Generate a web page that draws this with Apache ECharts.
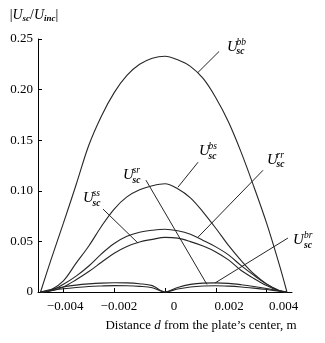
<!DOCTYPE html>
<html><head><meta charset="utf-8">
<script src="https://cdn.jsdelivr.net/npm/echarts@6/dist/echarts.min.js"></script>
<style>html,body{margin:0;padding:0;background:#fff}#c{width:325px;height:343px}</style>
</head><body><div id="c"></div>
<script>
// ---- data ----
const xs = [-0.0049, -0.0045, -0.004, -0.0035, -0.003, -0.0025, -0.002, -0.0015, -0.001, -0.0005, 0,
            0.0005, 0.001, 0.0015, 0.002, 0.0025, 0.003, 0.0035, 0.004, 0.0045, 0.0048];
const uBB = [0, 0.031, 0.068, 0.106, 0.145, 0.174, 0.197, 0.214, 0.225, 0.231, 0.233,
             0.2295, 0.223, 0.211, 0.192, 0.168, 0.138, 0.104, 0.068, 0.027, 0];
const uBS = [0, 0.002, 0.011, 0.0285, 0.0455, 0.065, 0.082, 0.094, 0.101, 0.105, 0.107,
             0.102, 0.093, 0.079, 0.063, 0.046, 0.031, 0.0178, 0.008, 0.0012, 0];
const uRR = [0, 0.0015, 0.0077, 0.0157, 0.0257, 0.0377, 0.0479, 0.055, 0.059, 0.061, 0.062,
             0.0605, 0.057, 0.051, 0.0446, 0.0367, 0.026, 0.0164, 0.0078, 0.0015, 0];
const uSS = [0, 0.001, 0.005, 0.0121, 0.0202, 0.0294, 0.0383, 0.045, 0.0495, 0.052, 0.054,
             0.0532, 0.0498, 0.0454, 0.0396, 0.0317, 0.0212, 0.0134, 0.0064, 0.001, 0];
const uSR = [0, 0.0025, 0.005, 0.0068, 0.008, 0.0088, 0.0091, 0.009, 0.0082, 0.0063, 0,
             0.0045, 0.0075, 0.0088, 0.009, 0.0085, 0.0072, 0.0055, 0.0035, 0.0012, 0];
const uBR = [0, 0.0015, 0.0032, 0.0045, 0.0055, 0.006, 0.0063, 0.0062, 0.0056, 0.0042, 0,
             0.003, 0.005, 0.006, 0.0062, 0.0058, 0.005, 0.0038, 0.0024, 0.0008, 0];

const seriesSup = ['bb', 'bs', 'rr', 'ss', 'sr', 'br'];
const seriesSub = 'sc';
// callout lines: [x on curve, y on curve, x at label, y at label]
const callBB = [0.00130, 0.217, 0.00213, 0.2377];
const callBS = [0.00051, 0.1036, 0.00130, 0.1282];
const callRR = [0.00130, 0.0542, 0.00386, 0.1203];
const callSS = [-0.00106, 0.0483, -0.00244, 0.0819];
const callSR = [0.00165, 0.0075, -0.00075, 0.1105];
const callBR = [0.00197, 0.0089, 0.00484, 0.0533];

const xTicks = [-0.004, -0.002, 0, 0.002, 0.004];
const xTickLabels = ['\u22120.004', '\u22120.002', '0', '0.002', '0.004'];
const yTicks = [0, 0.05, 0.1, 0.15, 0.2, 0.25];
const yTickLabels = ['0', '0.05', '0.10', '0.15', '0.20', '0.25'];
const xTitle = 'Distance {i|d} from the plate\u2019s center, m';

// ---- styles ----
const FONT = "'Liberation Serif','Times New Roman',serif";
const INK = '#000';
const LINE = '#262626';
const xLabelShift = [1.7, 4.7, 9, 13.3, 17];
// label offsets [dx, dy] of the "U" relative to the label end of the callout, gap to super/sub
const labelOff = { bb: [8, -4.5, 9.5], bs: [1, -11, 9.5], rr: [4, -10.5, 9.5],
                   ss: [-20, -11, 9.5], sr: [-23, -5, 9.5], br: [5, 2, 11] };

function pairs(arr) { return xs.map((x, i) => [x, arr[i]]); }

function makeSeries(name, arr, call) {
  const off = labelOff[name];
  const end = [call[2], call[3]];
  const base = { coord: end };
  return {
    type: 'line', name: name, data: pairs(arr), smooth: 0.35, showSymbol: false, clip: false,
    lineStyle: { color: LINE, width: 1.1 }, silent: true, animation: false, z: 2,
    markLine: {
      silent: true, animation: false, symbol: ['none', 'none'],
      lineStyle: { color: LINE, width: 1, type: 'solid' }, label: { show: false },
      emphasis: { disabled: true },
      data: [[{ coord: [call[0], call[1]] }, { coord: end }]]
    },
    markPoint: {
      silent: true, animation: false, symbol: 'circle', symbolSize: 0,
      itemStyle: { color: 'rgba(0,0,0,0)' },
      label: { show: true, color: INK, fontFamily: FONT, fontStyle: 'italic', align: 'left', verticalAlign: 'middle' },
      data: [
        Object.assign({}, base, { label: { formatter: 'U', fontSize: 15, position: [off[0], off[1]] } }),
        Object.assign({}, base, { label: { formatter: name, fontSize: 9.5, position: [off[0] + off[2], off[1] - 4.5] } }),
        Object.assign({}, base, { label: { formatter: seriesSub, fontSize: 9.5, fontWeight: 'bold', position: [off[0] + off[2], off[1] + 5] } })
      ]
    }
  };
}

const xRich = {};
xLabelShift.forEach((s, i) => {
  xRich['s' + i] = { fontFamily: FONT, fontSize: 13, color: INK, padding: [0, 0, 0, 2 * s] };
});

const chart = echarts.init(document.getElementById('c'), null, { renderer: 'canvas' });
chart.setOption({
  backgroundColor: '#fff',
  animation: false,
  grid: { left: 38, top: 39, width: 254, height: 253 },
  xAxis: {
    type: 'value', min: -0.005, max: 0.005,
    axisLine: { show: true, onZero: false, lineStyle: { color: INK, width: 1 } },
    axisTick: { show: true, inside: true, length: 4, customValues: xTicks, lineStyle: { color: INK } },
    splitLine: { show: false },
    axisLabel: {
      customValues: xTicks, margin: 8, fontFamily: FONT, fontSize: 13, color: INK,
      formatter: v => { const i = xTicks.findIndex(t => Math.abs(t - v) < 1e-9); return i < 0 ? '' : '{s' + i + '|' + xTickLabels[i] + '}'; },
      rich: xRich
    },
    name: xTitle, nameLocation: 'middle', nameGap: 27,
    nameTextStyle: {
      fontFamily: FONT, fontSize: 13, color: INK, padding: [0, 0, 0, 72], lineHeight: 14,
      rich: { i: { fontFamily: FONT, fontSize: 13, fontStyle: 'italic', color: INK } }
    }
  },
  yAxis: {
    type: 'value', min: 0, max: 0.25, interval: 0.05,
    axisLine: { show: true, onZero: false, lineStyle: { color: INK, width: 1 } },
    axisTick: { show: true, inside: true, length: 4, lineStyle: { color: INK } },
    splitLine: { show: false },
    axisLabel: {
      margin: 5, fontFamily: FONT, fontSize: 13, color: INK,
      formatter: v => { const i = yTicks.findIndex(t => Math.abs(t - v) < 1e-9); return i < 0 ? '' : yTickLabels[i]; }
    },
    name: '{b||}{u|U}{s|sc}{b|/}{u|U}{s|inc}{b||}', nameLocation: 'end', nameGap: 16,
    nameTextStyle: {
      align: 'center', verticalAlign: 'bottom', padding: [0, 8, 0, 0],
      rich: {
        b: { fontFamily: FONT, fontSize: 14, color: INK, lineHeight: 16 },
        u: { fontFamily: FONT, fontSize: 14, fontStyle: 'italic', color: INK, lineHeight: 16 },
        s: { fontFamily: FONT, fontSize: 9, fontStyle: 'italic', fontWeight: 'bold', color: INK, lineHeight: 9, verticalAlign: 'bottom' }
      }
    }
  },
  series: [
    makeSeries('bb', uBB, callBB),
    makeSeries('bs', uBS, callBS),
    makeSeries('rr', uRR, callRR),
    makeSeries('ss', uSS, callSS),
    makeSeries('sr', uSR, callSR),
    makeSeries('br', uBR, callBR)
  ]
});
</script></body></html>
